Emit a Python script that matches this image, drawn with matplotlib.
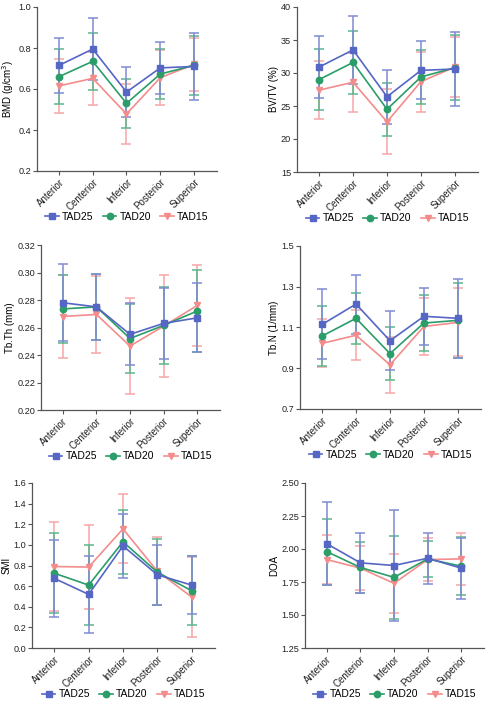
import matplotlib
matplotlib.use("Agg")
import matplotlib.pyplot as plt
from matplotlib.lines import Line2D
import numpy as np

plt.rcParams['font.family'] = ['Liberation Sans', 'DejaVu Sans']

regions = ["Anterior", "Centerior", "Inferior", "Posterior", "Superior"]
groups = ["TAD25", "TAD20", "TAD15"]

# BMD (g/cm3)
bmd_mean = {"TAD25": [0.715, 0.795, 0.585, 0.703, 0.710],
            "TAD20": [0.660, 0.735, 0.530, 0.673, 0.715],
            "TAD15": [0.615, 0.652, 0.478, 0.655, 0.720]}
bmd_sd = {"TAD25": [0.135, 0.150, 0.120, 0.128, 0.163],
          "TAD20": [0.135, 0.140, 0.118, 0.120, 0.143],
          "TAD15": [0.130, 0.130, 0.147, 0.135, 0.130]}

# BV/TV (%)
bvtv_mean = {"TAD25": [30.9, 33.5, 26.4, 30.4, 30.6],
             "TAD20": [29.0, 31.6, 24.5, 29.4, 30.8],
             "TAD15": [27.4, 28.6, 22.6, 28.7, 30.9]}
bvtv_sd = {"TAD25": [4.65, 5.1, 4.1, 4.4, 5.6],
           "TAD20": [4.65, 4.8, 4.0, 4.1, 4.9],
           "TAD15": [4.35, 4.5, 4.9, 4.55, 4.5]}

# Tb.Th (mm)
tbth_mean = {"TAD25": [0.278, 0.275, 0.255, 0.263, 0.267],
             "TAD20": [0.2735, 0.275, 0.252, 0.2615, 0.272],
             "TAD15": [0.268, 0.2695, 0.2465, 0.261, 0.276]}
tbth_sd = {"TAD25": [0.028, 0.024, 0.0225, 0.026, 0.025],
           "TAD20": [0.0245, 0.024, 0.025, 0.028, 0.0295],
           "TAD15": [0.030, 0.028, 0.035, 0.037, 0.0295]}

# Tb.N (1/mm)
tbn_mean = {"TAD25": [1.115, 1.215, 1.035, 1.155, 1.145],
            "TAD20": [1.058, 1.145, 0.972, 1.122, 1.135],
            "TAD15": [1.022, 1.062, 0.917, 1.105, 1.125]}
tbn_sd = {"TAD25": [0.172, 0.145, 0.145, 0.141, 0.195],
          "TAD20": [0.148, 0.125, 0.131, 0.139, 0.183],
          "TAD15": [0.118, 0.123, 0.137, 0.142, 0.167]}

# SMI
smi_mean = {"TAD25": [0.675, 0.520, 0.990, 0.710, 0.610],
            "TAD20": [0.725, 0.610, 1.030, 0.735, 0.555],
            "TAD15": [0.790, 0.785, 1.155, 0.745, 0.495]}
smi_sd = {"TAD25": [0.375, 0.375, 0.310, 0.290, 0.285],
          "TAD20": [0.390, 0.390, 0.310, 0.322, 0.333],
          "TAD15": [0.430, 0.410, 0.335, 0.330, 0.385]}

# DOA
doa_mean = {"TAD25": [2.040, 1.895, 1.875, 1.930, 1.855],
            "TAD20": [1.980, 1.860, 1.785, 1.925, 1.870],
            "TAD15": [1.920, 1.855, 1.740, 1.920, 1.925]}
doa_sd = {"TAD25": [0.315, 0.230, 0.420, 0.195, 0.230],
          "TAD20": [0.250, 0.190, 0.315, 0.135, 0.220],
          "TAD15": [0.185, 0.165, 0.225, 0.165, 0.200]}

colors = {"TAD25": "#5566c4", "TAD20": "#2a9d68", "TAD15": "#f48c8c"}
ecolors = {"TAD25": "#7f8bd3", "TAD20": "#5bb58a", "TAD15": "#f6a6a6"}
markers = {"TAD25": "s", "TAD20": "o", "TAD15": "v"}
msizes = {"TAD25": 5.0, "TAD20": 4.6, "TAD15": 5.0}

W, H = 490, 704
fig = plt.figure(figsize=(W / 100, H / 100), dpi=100)

panels = [
    (bmd_mean, bmd_sd, "BMD (g/cm$^3$)", (0.2, 1.0), [0.2, 0.4, 0.6, 0.8, 1.0], "{:.1f}", (37, 217, 7, 171)),
    (bvtv_mean, bvtv_sd, "BV/TV (%)", (15, 40), [15, 20, 25, 30, 35, 40], "{:.0f}", (297, 478, 7, 172)),
    (tbth_mean, tbth_sd, "Tb.Th (mm)", (0.20, 0.32), [0.20, 0.22, 0.24, 0.26, 0.28, 0.30, 0.32], "{:.2f}", (41, 220, 245, 410)),
    (tbn_mean, tbn_sd, "Tb.N (1/mm)", (0.7, 1.5), [0.7, 0.9, 1.1, 1.3, 1.5], "{:.1f}", (300, 481, 246, 409)),
    (smi_mean, smi_sd, "SMI", (0.0, 1.6), [0.0, 0.2, 0.4, 0.6, 0.8, 1.0, 1.2, 1.4, 1.6], "{:.1f}", (32, 215, 483, 648)),
    (doa_mean, doa_sd, "DOA", (1.25, 2.50), [1.25, 1.50, 1.75, 2.00, 2.25, 2.50], "{:.2f}", (305, 484, 483, 648)),
]

x = np.arange(len(regions))
for mean, sd, ylabel, ylim, yticks, fmt, (l, r, t, b) in panels:
    ax = fig.add_axes([l / W, 1 - b / H, (r - l) / W, (b - t) / H])
    for g in ["TAD15", "TAD20", "TAD25"]:
        ax.errorbar(x, mean[g], yerr=sd[g], color=colors[g], ecolor=ecolors[g],
                    marker=markers[g], markersize=msizes[g], linewidth=1.2,
                    elinewidth=1.1, capsize=3.5, capthick=1.1,
                    clip_on=False, zorder=3)
    ax.set_xlim(-0.65, 4.68)
    ax.set_ylim(*ylim)
    ax.set_yticks(yticks)
    ax.set_yticklabels([fmt.format(v) for v in yticks], fontsize=6.6)
    ax.set_xticks(x)
    ax.set_xticklabels(regions, rotation=45, ha="right", rotation_mode="anchor", fontsize=7)
    ax.set_ylabel(ylabel, fontsize=7, labelpad=1.5)
    for s in ["top", "right"]:
        ax.spines[s].set_visible(False)
    for s in ["left", "bottom"]:
        ax.spines[s].set_color("#555555")
        ax.spines[s].set_linewidth(0.9)
    ax.tick_params(axis="both", length=3, width=0.8, color="#555555", pad=1.2, labelcolor="#222222")
    handles = [Line2D([], [], color=colors[g], marker=markers[g], markersize=msizes[g], linewidth=1.2)
               for g in groups]
    ax.legend(handles, groups, loc="center", bbox_to_anchor=(0.5, -0.28), ncol=3, frameon=False,
              fontsize=7.5, handlelength=1.3, columnspacing=0.9, handletextpad=0.3)

fig.savefig("out.png", dpi=100)
